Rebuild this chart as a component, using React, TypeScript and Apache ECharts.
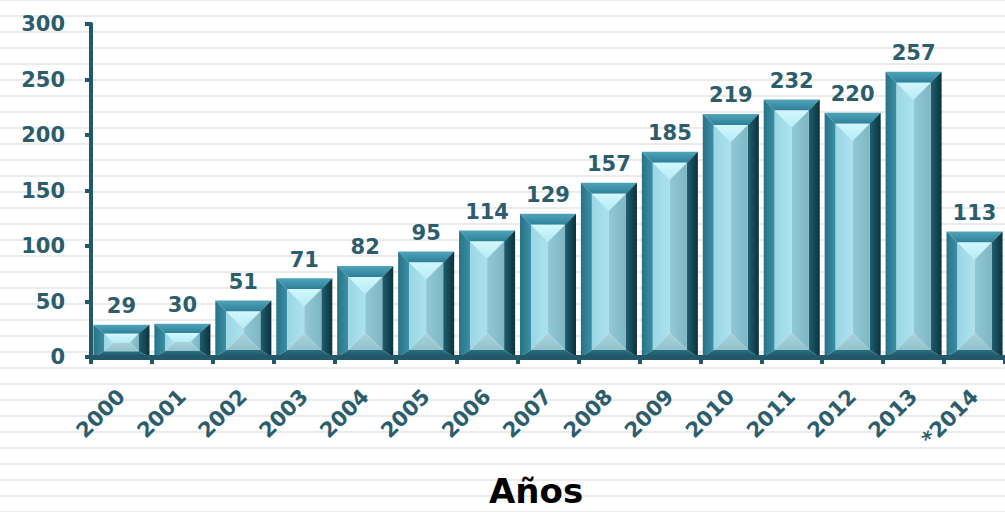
import React, { useEffect, useRef } from "react";
import * as echarts from "echarts";

// Years shown on the horizontal axis (2014 is a partial year, hence the asterisk)
const years = ["2000", "2001", "2002", "2003", "2004", "2005", "2006", "2007", "2008", "2009", "2010", "2011", "2012", "2013", "*2014"];
// Yearly totals
const totals = [29, 30, 51, 71, 82, 95, 114, 129, 157, 185, 219, 232, 220, 257, 113];
// Value axis ticks
const yTicks = [0, 50, 100, 150, 200, 250, 300];

const INK = "#2b5d6c";
const AXIS = "#22586a";
const DIGIT_FONT = "'DejaVu Sans', sans-serif";

const lg = (x1: number, y1: number, x2: number, y2: number, a: string, b: string) =>
  new echarts.graphic.LinearGradient(x1, y1, x2, y2, [
    { offset: 0, color: a },
    { offset: 1, color: b },
  ]);

// Bevelled "glass block" bar: an outer frame of four trapezoids around a hipped inner face
function renderBevelBar(params: any, api: any) {
  const idx = api.value(0);
  const val = api.value(1);
  const top = api.coord([idx, val]);
  const base = api.coord([idx, 0]);
  const cat = api.size([1, 0])[0];
  const bw = cat * 0.92;
  const cx = top[0];
  const x0 = cx - bw / 2;
  const x1 = cx + bw / 2;
  const yt = top[1];
  const yb = base[1];
  const h = yb - yt;

  const side = Math.min(11, bw * 0.2);
  const st = Math.min(11, h * 0.28);
  const sb = Math.min(7, h * 0.18);
  const ix0 = x0 + side;
  const ix1 = x1 - side;
  const iy0 = yt + st;
  const iy1 = yb - sb;
  const iw = ix1 - ix0;
  const ih = Math.max(0, iy1 - iy0);
  const d = Math.min(iw / 2, ih / 2);

  const poly = (points: number[][], fill: any) => ({
    type: "polygon",
    shape: { points },
    style: { fill, stroke: null },
  });

  return {
    type: "group",
    children: [
      // frame
      poly([[x0, yt], [x1, yt], [ix1, iy0], [ix0, iy0]], lg(0, 0, 0, 1, "#4fa5bb", "#2d7f97")),
      poly([[x0, yt], [ix0, iy0], [ix0, iy1], [x0, yb]], lg(0, 0, 1, 0, "#2a7286", "#3a90a6")),
      poly([[x1, yt], [x1, yb], [ix1, iy1], [ix1, iy0]], lg(0, 0, 1, 0, "#1f5f71", "#0c323d")),
      poly([[x0, yb], [ix0, iy1], [ix1, iy1], [x1, yb]], lg(0, 0, 0, 1, "#2b6f82", "#1d5565")),
      // inner face
      poly([[ix0, iy0], [ix1, iy0], [ix1 - d, iy0 + d], [ix0 + d, iy0 + d]], lg(0, 0, 0, 1, "#d2f7fd", "#b6ecf7")),
      poly([[ix0, iy0], [ix0 + d, iy0 + d], [ix0 + d, iy1 - d], [ix0, iy1]], lg(0, 0, 1, 0, "#9bd6e5", "#ace2ee")),
      poly([[ix1, iy0], [ix1, iy1], [ix1 - d, iy1 - d], [ix1 - d, iy0 + d]], lg(0, 0, 1, 0, "#92c9d6", "#7fb6c4")),
      poly([[ix0, iy1], [ix0 + d, iy1 - d], [ix1 - d, iy1 - d], [ix1, iy1]], lg(0, 0, 0, 1, "#a9d3dc", "#93c2cd")),
      // value label
      {
        type: "text",
        x: cx,
        y: yt - 8,
        style: {
          text: String(val),
          align: "center",
          verticalAlign: "bottom",
          fill: INK,
          font: `bold 21px ${DIGIT_FONT}`,
        },
      },
    ],
  };
}

export default function App() {
  const ref = useRef<HTMLDivElement>(null);

  useEffect(() => {
    if (!ref.current) return;
    const chart = echarts.init(ref.current, null, { renderer: "svg" });

    // faint horizontal ruling across the whole sheet
    const stripes: any[] = [];
    for (let y = -1; y < 512; y += 16) {
      stripes.push({
        type: "rect",
        z: -100,
        silent: true,
        shape: { x: 0, y, width: 1005, height: 2 },
        style: { fill: "#ebebeb" },
      });
    }

    chart.setOption({
      animation: false,
      backgroundColor: "#ffffff",
      grid: { left: 91, right: -2, top: 24, bottom: 155, containLabel: false },
      graphic: [
        ...stripes,
        {
          type: "text",
          z: 100,
          left: 489,
          top: 474,
          style: { text: "Años", fill: "#000", font: "bold 34px 'DejaVu Sans', sans-serif" },
        },
      ],
      xAxis: {
        type: "category",
        data: years,
        boundaryGap: true,
        axisLine: { show: true, lineStyle: { color: AXIS, width: 5 } },
        axisTick: { show: true, interval: 0, length: 7, lineStyle: { color: AXIS, width: 4 } },
        axisLabel: {
          interval: 0,
          rotate: 45,
          margin: 36,
          color: INK,
          fontFamily: DIGIT_FONT,
          fontWeight: "bold",
          fontSize: 21,
        },
        splitLine: { show: false },
        z: 5,
      },
      yAxis: {
        type: "value",
        min: yTicks[0],
        max: yTicks[yTicks.length - 1],
        interval: yTicks[1] - yTicks[0],
        axisLine: { show: true, lineStyle: { color: AXIS, width: 4 } },
        axisTick: { show: true, length: 6, lineStyle: { color: AXIS, width: 4 } },
        axisLabel: {
          margin: 26,
          color: INK,
          fontFamily: DIGIT_FONT,
          fontWeight: "bold",
          fontSize: 21,
        },
        splitLine: { show: false },
        z: 5,
      },
      series: [
        {
          type: "custom",
          renderItem: renderBevelBar,
          data: totals.map((v, i) => [i, v]),
          encode: { x: 0, y: 1 },
          clip: false,
        },
      ],
    });

    return () => chart.dispose();
  }, []);

  return (
    <div
      ref={ref}
      style={{ position: "absolute", left: 0, top: 0, width: 1005, height: 512 }}
    />
  );
}
